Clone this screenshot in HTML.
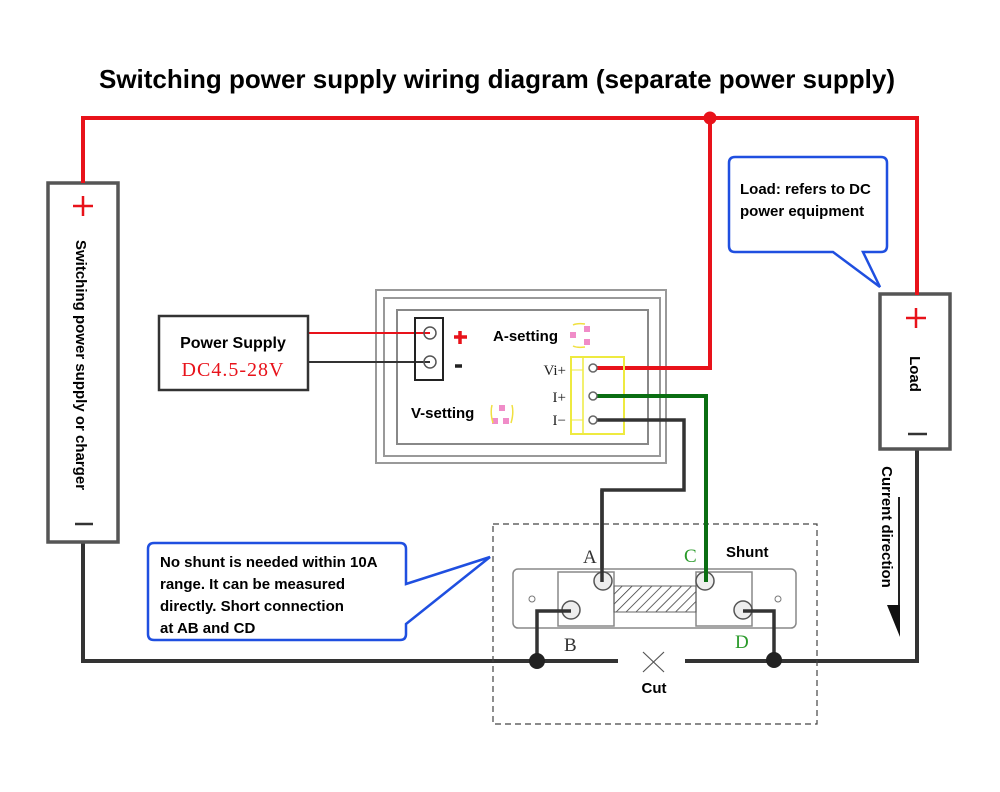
<!DOCTYPE html>
<html><head><meta charset="utf-8"><style>
html,body{margin:0;padding:0;background:#fff;}
svg{display:block;}
text{font-family:"Liberation Sans",sans-serif;}
.b{font-weight:bold;}
</style></head><body>
<svg width="1000" height="792" viewBox="0 0 1000 792" xmlns="http://www.w3.org/2000/svg">
<defs>
<pattern id="h" width="7" height="7" patternUnits="userSpaceOnUse" patternTransform="rotate(45)">
<line x1="0" y1="0" x2="0" y2="7" stroke="#333" stroke-width="1.5"/>
</pattern>
</defs>
<text x="497" y="88" text-anchor="middle" class="b" font-size="26" fill="#000">Switching power supply wiring diagram (separate power supply)</text>

<!-- black bottom wire -->
<polyline points="83,542 83,661 618,661" fill="none" stroke="#333" stroke-width="4"/>
<polyline points="685,661 917,661 917,449" fill="none" stroke="#333" stroke-width="4"/>

<!-- left box -->
<rect x="48" y="183" width="70" height="359" fill="#fff" stroke="#555" stroke-width="3.5"/>
<path d="M73,206 h20 M83,196 v20" stroke="#e8121a" stroke-width="2.5"/>
<line x1="75" y1="524" x2="93" y2="524" stroke="#333" stroke-width="2.5"/>
<text transform="translate(76,365) rotate(90)" text-anchor="middle" class="b" font-size="15">Switching power supply or charger</text>

<!-- load box -->
<rect x="880" y="294" width="70" height="155" fill="#fff" stroke="#555" stroke-width="3.5"/>
<path d="M906,318 h20 M916,308 v20" stroke="#e8121a" stroke-width="2.5"/>
<line x1="908" y1="434" x2="927" y2="434" stroke="#333" stroke-width="2.5"/>
<text transform="translate(910,374) rotate(90)" text-anchor="middle" class="b" font-size="15">Load</text>
<text transform="translate(882,527) rotate(90)" text-anchor="middle" class="b" font-size="15">Current direction</text>
<line x1="899" y1="497" x2="899" y2="615" stroke="#222" stroke-width="2"/>
<polygon points="887,605 900,605 900,637" fill="#111"/>

<!-- load callout -->
<path d="M735,157 H881 Q887,157 887,163 V246 Q887,252 881,252 H863 L880,287 L833,252 H735 Q729,252 729,246 V163 Q729,157 735,157 Z" fill="#fff" stroke="#1f4fe0" stroke-width="2.5"/>
<text x="740" y="194" class="b" font-size="15">Load: refers to DC</text>
<text x="740" y="216" class="b" font-size="15">power equipment</text>

<!-- meter -->
<rect x="376" y="290" width="290" height="173" fill="#fff" stroke="#999" stroke-width="2"/>
<rect x="384" y="298" width="276" height="158" fill="none" stroke="#999" stroke-width="2"/>
<rect x="397" y="310" width="251" height="134" fill="none" stroke="#888" stroke-width="2"/>

<!-- red top wire -->
<polyline points="83,183 83,118 917,118 917,295" fill="none" stroke="#e8121a" stroke-width="4"/>
<polyline points="710,118 710,368 593,368" fill="none" stroke="#e8121a" stroke-width="4"/>
<circle cx="710" cy="118" r="6.5" fill="#e8121a"/>

<line x1="308" y1="333" x2="430" y2="333" stroke="#e8121a" stroke-width="2"/>
<line x1="308" y1="362" x2="430" y2="362" stroke="#333" stroke-width="2"/>
<rect x="415" y="318" width="28" height="62" fill="none" stroke="#222" stroke-width="2"/>
<circle cx="430" cy="333" r="6" fill="none" stroke="#555" stroke-width="1.5"/>
<circle cx="430" cy="362" r="6" fill="none" stroke="#555" stroke-width="1.5"/>
<path d="M454,337 h13 M460,331 v13" stroke="#e8121a" stroke-width="3.5"/>
<line x1="455" y1="366" x2="462" y2="366" stroke="#222" stroke-width="3.5"/>
<text x="493" y="341" class="b" font-size="15">A-setting</text>
<text x="411" y="418" class="b" font-size="15">V-setting</text>
<g fill="#f08cc8">
<rect x="570" y="332" width="6" height="6"/><rect x="584" y="326" width="6" height="6"/><rect x="584" y="339" width="6" height="6"/>
<rect x="499" y="405" width="6" height="6"/><rect x="492" y="418" width="6" height="6"/><rect x="503" y="418" width="6" height="6"/>
</g>
<path d="M573,325 q4,-2 12,-1 M573,346 q4,2 12,1" stroke="#f0e040" stroke-width="1.5" fill="none"/>
<path d="M492,405 q-2,8 1,18 M512,405 q2,8 -1,18" stroke="#f0e040" stroke-width="1.5" fill="none"/>
<rect x="571" y="357" width="53" height="77" fill="none" stroke="#eeea40" stroke-width="2"/>
<line x1="583" y1="357" x2="583" y2="434" stroke="#eeea40" stroke-width="1.5"/>
<line x1="571" y1="370" x2="583" y2="370" stroke="#eeea40" stroke-width="1"/>
<line x1="571" y1="420" x2="583" y2="420" stroke="#eeea40" stroke-width="1"/>
<text x="566" y="375" text-anchor="end" font-size="15" fill="#222" style="font-family:'Liberation Serif',serif">Vi+</text>
<text x="566" y="402" text-anchor="end" font-size="15" fill="#222" style="font-family:'Liberation Serif',serif">I+</text>
<text x="566" y="425" text-anchor="end" font-size="15" fill="#222" style="font-family:'Liberation Serif',serif">I−</text>

<!-- power supply box -->
<rect x="159" y="316" width="149" height="74" fill="#fff" stroke="#333" stroke-width="2.5"/>
<text x="233" y="348" text-anchor="middle" class="b" font-size="16">Power Supply</text>
<text x="233" y="376" text-anchor="middle" font-size="20" fill="#e8121a" letter-spacing="1" style="font-family:'Liberation Serif',serif">DC4.5-28V</text>

<!-- green & gray wires -->
<polyline points="593,396 706,396 706,581" fill="none" stroke="#0a6e12" stroke-width="4"/>
<polyline points="593,420 684,420 684,490 602,490 602,581" fill="none" stroke="#333" stroke-width="3.5"/>
<circle cx="593" cy="368" r="4" fill="#fff" stroke="#666" stroke-width="1.5"/>
<circle cx="593" cy="396" r="4" fill="#fff" stroke="#666" stroke-width="1.5"/>
<circle cx="593" cy="420" r="4" fill="#fff" stroke="#666" stroke-width="1.5"/>

<!-- shunt dashed box -->
<rect x="493" y="524" width="324" height="200" fill="none" stroke="#444" stroke-width="1.2" stroke-dasharray="6,4"/>
<rect x="513" y="569" width="283" height="59" rx="5" fill="#fff" stroke="#888" stroke-width="1.5"/>
<rect x="558" y="572" width="56" height="54" fill="#fff" stroke="#888" stroke-width="1.5"/>
<rect x="696" y="572" width="56" height="54" fill="#fff" stroke="#888" stroke-width="1.5"/>
<rect x="614" y="586" width="82" height="26" fill="url(#h)" stroke="#666" stroke-width="1"/>
<circle cx="532" cy="599" r="3" fill="none" stroke="#777"/>
<circle cx="778" cy="599" r="3" fill="none" stroke="#777"/>
<g fill="#eee" stroke="#555" stroke-width="1.5">
<circle cx="603" cy="581" r="9"/><circle cx="705" cy="581" r="9"/>
<circle cx="571" cy="610" r="9"/><circle cx="743" cy="610" r="9"/>
</g>
<line x1="602" y1="490" x2="602" y2="582" stroke="#333" stroke-width="3.5"/>
<line x1="706" y1="520" x2="706" y2="582" stroke="#0a6e12" stroke-width="4"/>
<polyline points="571,611 537,611 537,661" fill="none" stroke="#333" stroke-width="3.5"/>
<polyline points="743,611 774,611 774,660" fill="none" stroke="#333" stroke-width="3.5"/>
<circle cx="537" cy="661" r="8" fill="#222"/>
<circle cx="774" cy="660" r="8" fill="#222"/>
<text x="583" y="563" font-size="19" style="font-family:'Liberation Serif',serif" fill="#333">A</text>
<text x="684" y="562" font-size="19" style="font-family:'Liberation Serif',serif" fill="#2a9a2a">C</text>
<text x="564" y="651" font-size="19" style="font-family:'Liberation Serif',serif" fill="#333">B</text>
<text x="735" y="648" font-size="19" style="font-family:'Liberation Serif',serif" fill="#2a9a2a">D</text>
<text x="726" y="557" class="b" font-size="15">Shunt</text>
<path d="M643,652 L664,672 M664,652 L643,672" stroke="#555" stroke-width="1.2"/>
<text x="654" y="693" text-anchor="middle" class="b" font-size="15">Cut</text>

<!-- left callout -->
<path d="M154,543 H400 Q406,543 406,549 V584 L490,557 L406,624 V634 Q406,640 400,640 H154 Q148,640 148,634 V549 Q148,543 154,543 Z" fill="#fff" stroke="#1f4fe0" stroke-width="2.5"/>
<text x="160" y="567" class="b" font-size="15">No shunt is needed within 10A</text>
<text x="160" y="589" class="b" font-size="15">range. It can be measured</text>
<text x="160" y="611" class="b" font-size="15">directly. Short connection</text>
<text x="160" y="633" class="b" font-size="15">at AB and CD</text>
</svg>
</body></html>
